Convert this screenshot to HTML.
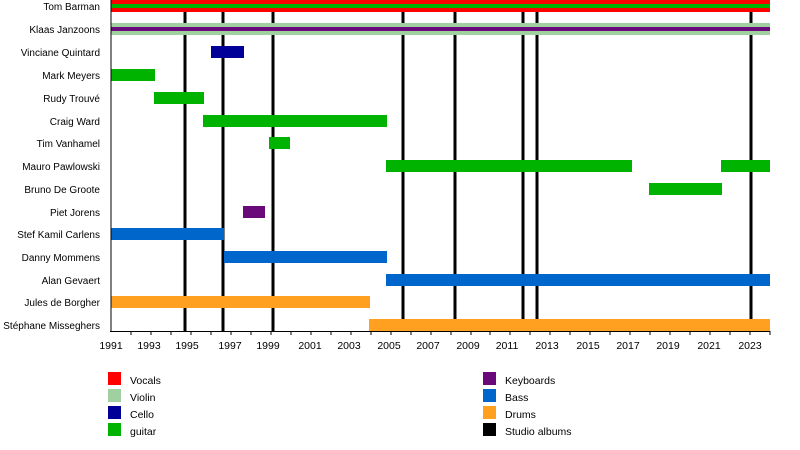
<!DOCTYPE html>
<html><head><style>body{margin:0;background:#fff}svg{display:block;font-family:"Liberation Sans",sans-serif;font-size:10.5px}</style></head><body>
<svg width="800" height="450" viewBox="0 0 800 450">
<g stroke="#000" stroke-width="3">
<line x1="185" y1="0" x2="185" y2="331"/><line x1="223" y1="0" x2="223" y2="331"/><line x1="273" y1="0" x2="273" y2="331"/><line x1="403" y1="0" x2="403" y2="331"/><line x1="455" y1="0" x2="455" y2="331"/><line x1="523" y1="0" x2="523" y2="331"/><line x1="537" y1="0" x2="537" y2="331"/><line x1="751" y1="0" x2="751" y2="331"/>
</g>
<rect x="111" y="0" width="659" height="12" fill="#f00"/><rect x="111" y="4" width="659" height="4" fill="#00b300"/>
<rect x="111" y="23" width="659" height="12" fill="#a0d0a0"/><rect x="111" y="27" width="659" height="4" fill="#6a0a7a"/>
<rect x="211" y="46" width="33" height="12" fill="#000099"/>
<g fill="#00b300">
<rect x="111" y="69" width="44" height="12"/><rect x="154" y="92" width="50" height="12"/><rect x="203" y="115" width="184" height="12"/><rect x="269" y="137" width="21" height="12"/><rect x="386" y="160" width="246" height="12"/><rect x="721" y="160" width="49" height="12"/><rect x="649" y="183" width="73" height="12"/>
</g>
<rect x="243" y="206" width="22" height="12" fill="#6a0a7a"/>
<g fill="#0066cc"><rect x="111" y="228" width="113" height="12"/><rect x="224" y="251" width="163" height="12"/><rect x="386" y="274" width="384" height="12"/></g>
<g fill="#ffa020"><rect x="111" y="296" width="259" height="12"/><rect x="369" y="319" width="401" height="12"/></g>
<line x1="111" y1="0" x2="111" y2="332" stroke="#000"/><line x1="110" y1="331.5" x2="770" y2="331.5" stroke="#000"/>
<g text-anchor="end" fill="#000" font-size="10">
<text x="100" y="10">Tom Barman</text><text x="100" y="33">Klaas Janzoons</text><text x="100" y="56">Vinciane Quintard</text><text x="100" y="79">Mark Meyers</text><text x="100" y="102">Rudy Trouvé</text><text x="100" y="125">Craig Ward</text><text x="100" y="147">Tim Vanhamel</text><text x="100" y="170">Mauro Pawlowski</text><text x="100" y="193">Bruno De Groote</text><text x="100" y="216">Piet Jorens</text><text x="100" y="238">Stef Kamil Carlens</text><text x="100" y="261">Danny Mommens</text><text x="100" y="284">Alan Gevaert</text><text x="100" y="306">Jules de Borgher</text><text x="100" y="329">Stéphane Misseghers</text>
</g>
<g stroke="#000">
<line x1="131" y1="331" x2="131" y2="335"/><line x1="151" y1="331" x2="151" y2="335"/><line x1="171" y1="331" x2="171" y2="335"/><line x1="191" y1="331" x2="191" y2="335"/><line x1="211" y1="331" x2="211" y2="335"/><line x1="231" y1="331" x2="231" y2="335"/><line x1="251" y1="331" x2="251" y2="335"/><line x1="271" y1="331" x2="271" y2="335"/><line x1="291" y1="331" x2="291" y2="335"/><line x1="311" y1="331" x2="311" y2="335"/><line x1="331" y1="331" x2="331" y2="335"/><line x1="351" y1="331" x2="351" y2="335"/><line x1="371" y1="331" x2="371" y2="335"/><line x1="391" y1="331" x2="391" y2="335"/><line x1="411" y1="331" x2="411" y2="335"/><line x1="431" y1="331" x2="431" y2="335"/><line x1="451" y1="331" x2="451" y2="335"/><line x1="471" y1="331" x2="471" y2="335"/><line x1="490" y1="331" x2="490" y2="335"/><line x1="510" y1="331" x2="510" y2="335"/><line x1="530" y1="331" x2="530" y2="335"/><line x1="550" y1="331" x2="550" y2="335"/><line x1="570" y1="331" x2="570" y2="335"/><line x1="590" y1="331" x2="590" y2="335"/><line x1="610" y1="331" x2="610" y2="335"/><line x1="630" y1="331" x2="630" y2="335"/><line x1="650" y1="331" x2="650" y2="335"/><line x1="670" y1="331" x2="670" y2="335"/><line x1="690" y1="331" x2="690" y2="335"/><line x1="710" y1="331" x2="710" y2="335"/><line x1="730" y1="331" x2="730" y2="335"/><line x1="750" y1="331" x2="750" y2="335"/><line x1="770" y1="331" x2="770" y2="335"/>
</g>
<g text-anchor="middle">
<text x="111" y="349">1991</text><text x="149" y="349">1993</text><text x="187" y="349">1995</text><text x="230" y="349">1997</text><text x="268" y="349">1999</text><text x="310" y="349">2001</text><text x="349" y="349">2003</text><text x="389" y="349">2005</text><text x="428" y="349">2007</text><text x="468" y="349">2009</text><text x="507" y="349">2011</text><text x="547" y="349">2013</text><text x="588" y="349">2015</text><text x="628" y="349">2017</text><text x="668" y="349">2019</text><text x="709" y="349">2021</text><text x="750" y="349">2023</text>
</g>
<rect x="108" y="372" width="13" height="13" fill="#f00"/><text x="130" y="384">Vocals</text>
<rect x="108" y="389" width="13" height="13" fill="#a0d0a0"/><text x="130" y="401">Violin</text>
<rect x="108" y="406" width="13" height="13" fill="#000099"/><text x="130" y="418">Cello</text>
<rect x="108" y="423" width="13" height="13" fill="#00b300"/><text x="130" y="435">guitar</text>
<rect x="483" y="372" width="13" height="13" fill="#6a0a7a"/><text x="505" y="384">Keyboards</text>
<rect x="483" y="389" width="13" height="13" fill="#0066cc"/><text x="505" y="401">Bass</text>
<rect x="483" y="406" width="13" height="13" fill="#ffa020"/><text x="505" y="418">Drums</text>
<rect x="483" y="423" width="13" height="13" fill="#000"/><text x="505" y="435">Studio albums</text>
</svg>
</body></html>
